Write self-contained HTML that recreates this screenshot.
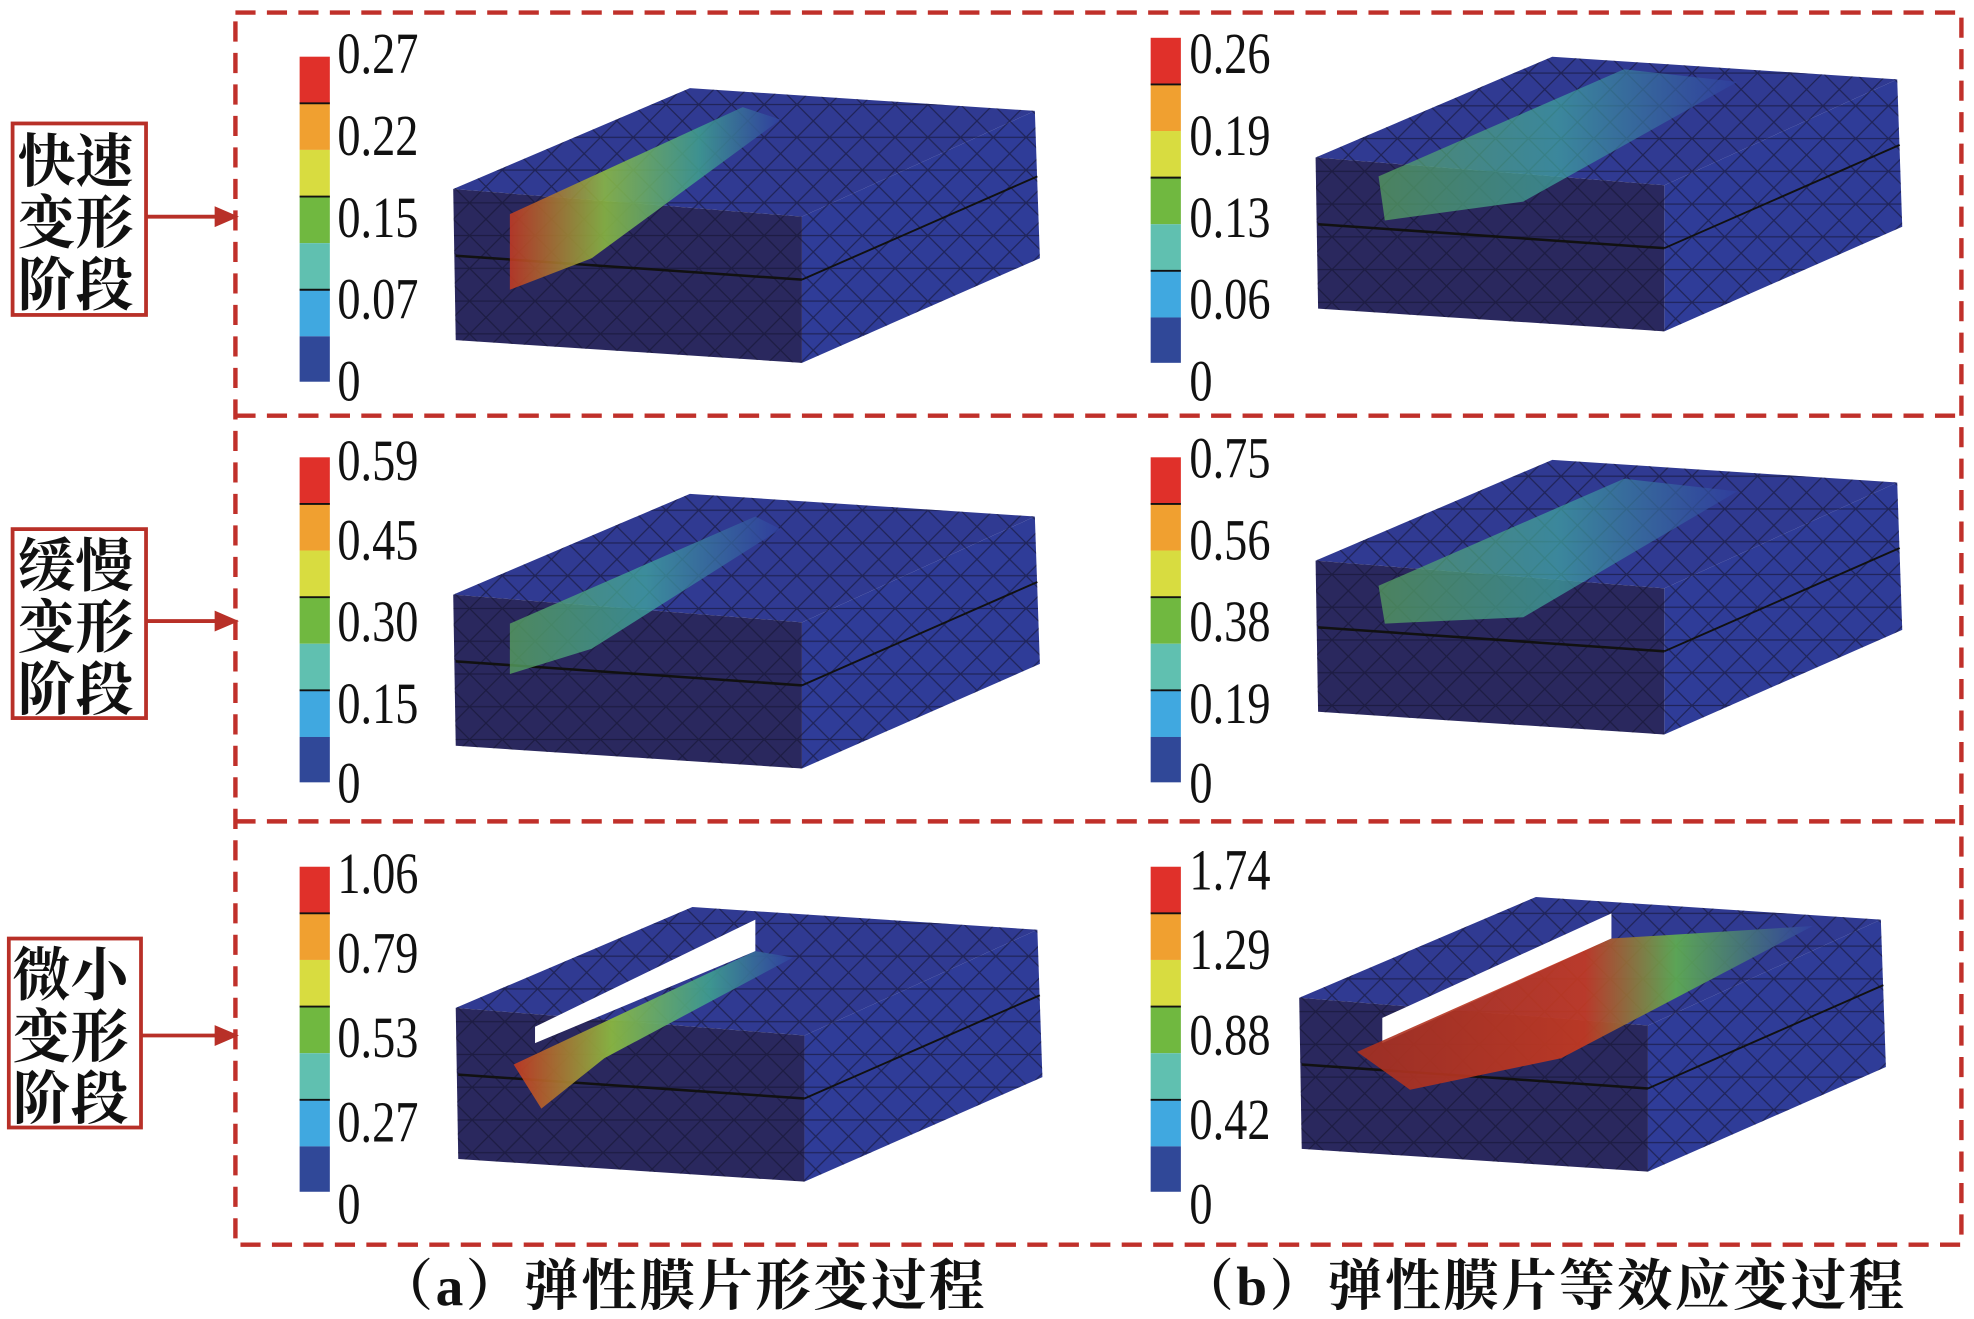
<!DOCTYPE html>
<html><head><meta charset="utf-8"><style>
html,body{margin:0;padding:0;background:#fff;}
svg{display:block;}
.t{font-family:"Liberation Serif","Noto Serif CJK SC",serif;fill:#111;}
</style></head><body>
<svg width="1974" height="1319" viewBox="0 0 1568 1047" preserveAspectRatio="none" xmlns="http://www.w3.org/2000/svg">
<defs>
<linearGradient id="gl" x1="0" y1="0" x2="1" y2="0">
<stop offset="0" stop-color="#c83a20"/><stop offset="0.35" stop-color="#8fbf40"/><stop offset="0.7" stop-color="#3fa090"/><stop offset="1" stop-color="#3040a0"/></linearGradient>
<linearGradient id="gm" x1="0" y1="0" x2="1" y2="0">
<stop offset="0" stop-color="#5aa860"/><stop offset="0.5" stop-color="#40a8a0"/><stop offset="1" stop-color="#3040a0"/></linearGradient>
<linearGradient id="gr" x1="0" y1="0" x2="1" y2="0">
<stop offset="0" stop-color="#a83020"/><stop offset="0.5" stop-color="#c83a20"/><stop offset="0.7" stop-color="#60b050"/><stop offset="1" stop-color="#3040a0"/></linearGradient>
<pattern id="mesh" width="26" height="26" patternUnits="userSpaceOnUse">
<path d="M0 0L26 26M26 0L0 26M0 13H26" stroke="#141430" stroke-width="1" opacity="0.6" fill="none"/></pattern>
<g id="cb">
<rect x="0" y="0" width="24" height="37" fill="#e0302a"/>
<rect x="0" y="37" width="24" height="37" fill="#f0a030"/>
<rect x="0" y="74" width="24" height="37" fill="#d8dc40"/>
<rect x="0" y="111" width="24" height="37" fill="#70b840"/>
<rect x="0" y="148" width="24" height="37" fill="#60c0b0"/>
<rect x="0" y="185" width="24" height="37" fill="#40a8e0"/>
<rect x="0" y="222" width="24" height="36" fill="#304898"/>
<g stroke="#111" stroke-width="1.5"><line x1="0" y1="37" x2="24" y2="37"/><line x1="0" y1="111" x2="24" y2="111"/><line x1="0" y1="185" x2="24" y2="185"/></g>
</g>
<g id="blk">
<polygon points="0,80 188,0 462,18 277,102" fill="#303a92"/>
<polygon points="277,102 462,18 466,135 277,218" fill="#2f3c98"/>
<polygon points="0,80 277,102 277,218 2,200" fill="#2a285e"/>
<polygon points="0,80 188,0 462,18 277,102" fill="url(#mesh)"/>
<polygon points="277,102 462,18 466,135 277,218" fill="url(#mesh)"/>
<polygon points="0,80 277,102 277,218 2,200" fill="url(#mesh)"/>
<line x1="2" y1="133" x2="277" y2="152" stroke="#111" stroke-width="2"/>
<line x1="277" y1="152" x2="464" y2="70" stroke="#111" stroke-width="1.5"/>
</g>
</defs>
<g fill="none" stroke="#c0302a" stroke-width="3.5" stroke-dasharray="16,9">
<rect x="187" y="10" width="1371" height="978"/>
<line x1="187" y1="330" x2="1558" y2="330"/>
<line x1="187" y1="652" x2="1558" y2="652"/>
</g>
<g fill="none" stroke="#b83028" stroke-width="3">
<rect x="10" y="98" width="106" height="152"/>
<rect x="10" y="420" width="106" height="150"/>
<rect x="7" y="745" width="105" height="150"/>
</g>
<g stroke="#b83028" stroke-width="3" fill="#b83028">
<line x1="116" y1="172" x2="175" y2="172"/><polygon points="186,172 172,166 172,178"/>
<line x1="116" y1="493" x2="175" y2="493"/><polygon points="186,493 172,487 172,499"/>
<line x1="112" y1="822" x2="175" y2="822"/><polygon points="186,822 172,816 172,828"/>
</g>
<g class="t" font-size="46" font-weight="bold">
<text x="14" y="144">快速</text><text x="14" y="193">变形</text><text x="14" y="242">阶段</text>
<text x="14" y="465">缓慢</text><text x="14" y="514">变形</text><text x="14" y="563">阶段</text>
<text x="10" y="790">微小</text><text x="10" y="839">变形</text><text x="10" y="888">阶段</text>
</g>
<use href="#cb" x="238" y="45"/><use href="#cb" x="914" y="30"/>
<use href="#cb" x="238" y="363"/><use href="#cb" x="914" y="363"/>
<use href="#cb" x="238" y="688"/><use href="#cb" x="914" y="688"/>
<g class="t" font-size="46" transform="scale(0.8,1)">
<text x="335" y="58">0.27</text><text x="335" y="123">0.22</text><text x="335" y="188">0.15</text><text x="335" y="253">0.07</text><text x="335" y="318">0</text>
<text x="1181" y="58">0.26</text><text x="1181" y="123">0.19</text><text x="1181" y="188">0.13</text><text x="1181" y="253">0.06</text><text x="1181" y="318">0</text>
<text x="335" y="381">0.59</text><text x="335" y="444">0.45</text><text x="335" y="509">0.30</text><text x="335" y="574">0.15</text><text x="335" y="637">0</text>
<text x="1181" y="379">0.75</text><text x="1181" y="444">0.56</text><text x="1181" y="509">0.38</text><text x="1181" y="574">0.19</text><text x="1181" y="637">0</text>
<text x="335" y="709">1.06</text><text x="335" y="772">0.79</text><text x="335" y="839">0.53</text><text x="335" y="906">0.27</text><text x="335" y="971">0</text>
<text x="1181" y="706">1.74</text><text x="1181" y="769">1.29</text><text x="1181" y="837">0.88</text><text x="1181" y="904">0.42</text><text x="1181" y="971">0</text>
</g>
<use href="#blk" x="360" y="70"/>
<polygon points="405,170 590,85 620,95 470,205 405,230" fill="url(#gl)" opacity="0.85"/>
<use href="#blk" x="1045" y="45"/>
<polygon points="1095,140 1290,55 1380,65 1210,160 1100,175" fill="url(#gm)" opacity="0.7"/>
<use href="#blk" x="360" y="392"/>
<polygon points="405,495 600,410 620,420 470,515 405,535" fill="url(#gm)" opacity="0.75"/>
<use href="#blk" x="1045" y="365"/>
<polygon points="1095,465 1290,380 1380,390 1210,490 1100,495" fill="url(#gm)" opacity="0.7"/>
<use href="#blk" x="362" y="720"/>
<polygon points="425,815 600,730 600,755 425,828" fill="#fff"/>
<polygon points="408,845 600,755 630,760 480,840 430,880" fill="url(#gl)" opacity="0.9"/>
<use href="#blk" x="1032" y="712"/>
<polygon points="1098,808 1280,725 1280,745 1098,828" fill="#fff"/>
<polygon points="1078,835 1280,745 1440,735 1240,840 1120,865" fill="url(#gr)" opacity="0.9"/>
<g class="t" font-size="44" font-weight="bold" letter-spacing="2">
<text x="300" y="1036">（a）弹性膜片形变过程</text>
<text x="936" y="1036">（b）弹性膜片等效应变过程</text>
</g>
</svg>
</body></html>
